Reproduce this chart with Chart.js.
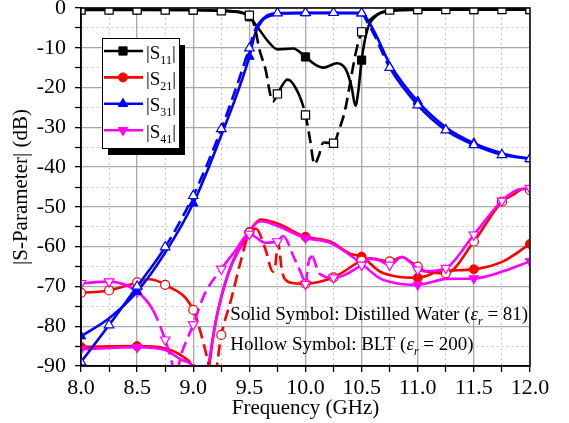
<!DOCTYPE html>
<html>
<head>
<meta charset="utf-8">
<script src="https://cdn.jsdelivr.net/npm/chart.js@4.4.1/dist/chart.umd.min.js"></script>
<style>
  html, body { margin: 0; padding: 0; background: #fff; }
  canvas { display: block; }
</style>
</head>
<body>
<canvas id="chart" width="569" height="423"></canvas>
<script>
// Solid symbols = distilled water, hollow symbols = BLT. Frequencies in GHz, values in dB.
const fS11w = [8.0, 8.5, 9.0, 9.25, 9.42, 9.5, 9.56, 9.67, 9.75, 9.89, 10.0, 10.09, 10.16, 10.28, 10.36, 10.41, 10.445, 10.47, 10.5, 10.55, 10.62, 10.72, 11.0, 11.5, 12.0];
const s11w  = [-0.4, -0.4, -0.5, -0.7, -1.0, -2.2, -4.3, -8.5, -10.4, -10.2, -12.3, -14.3, -15.0, -13.9, -15.5, -19.8, -24.6, -21.0, -13.1, -5.5, -2.2, -0.9, -0.4, -0.4, -0.4];

const fS21w = [8.0, 8.5, 8.75, 8.9, 9.0, 9.07, 9.14, 9.18, 9.22, 9.31, 9.4, 9.5, 9.6, 9.75, 10.0, 10.22, 10.4, 10.5, 10.66, 10.81, 11.0, 11.2, 11.5, 11.76, 12.0];
const s21w  = [-85.2, -85, -85.6, -87.5, -90.8, -100, -90.5, -82, -76, -66.8, -60.8, -56.3, -53.2, -54.2, -57.5, -58.7, -61.8, -62.5, -66.2, -67.5, -67.8, -66.2, -65.7, -63.7, -59.3];

const fS31w = [8.0, 8.25, 8.5, 8.75, 9.0, 9.25, 9.5, 9.55, 9.62, 9.7, 9.8, 10.0, 10.25, 10.5, 10.55, 10.62, 10.75, 11.0, 11.25, 11.5, 11.75, 12.0];
const s31w  = [-82.5, -78, -71.3, -61.5, -49.1, -32, -12.2, -6.5, -3, -1.8, -1.4, -1.3, -1.3, -1.3, -2.8, -6.3, -14, -23.5, -30, -34, -36.5, -38];

const fS41w = [8.0, 8.5, 8.75, 8.9, 9.0, 9.06, 9.13, 9.18, 9.22, 9.31, 9.4, 9.49, 9.52, 9.61, 9.74, 10.0, 10.22, 10.37, 10.5, 10.66, 10.81, 11.0, 11.26, 11.5, 11.76, 12.0];
const s41w  = [-85.8, -85.3, -86, -88.5, -90.6, -100, -90.5, -82.2, -76.3, -67, -61.2, -57.5, -55.3, -53.6, -54.7, -57.8, -59, -61.6, -64.3, -67.9, -69.2, -69.6, -68.1, -68, -66.2, -63.7];

const fS11b = [8.0, 8.25, 8.5, 8.75, 9.0, 9.25, 9.5, 9.55, 9.59, 9.64, 9.71, 9.75, 9.84, 9.95, 10.0, 10.04, 10.08, 10.12, 10.16, 10.25, 10.3, 10.35, 10.4, 10.45, 10.5, 10.56, 10.66, 10.75, 11.0, 11.25, 11.5, 11.75, 12.0];
const s11b  = [-0.5, -0.5, -0.5, -0.5, -0.5, -0.7, -1.8, -5, -10.5, -15, -23.5, -21.6, -18, -22.3, -26.9, -33, -39.3, -37, -33.8, -34, -30.5, -26, -18.5, -11, -6, -3.4, -1.3, -0.5, -0.4, -0.4, -0.4, -0.4, -0.4];

const fS21b = [8.0, 8.25, 8.5, 8.6, 8.75, 9.0, 9.08, 9.15, 9.19, 9.25, 9.34, 9.42, 9.5, 9.56, 9.64, 9.71, 9.73, 9.755, 9.79, 9.82, 9.9, 10.0, 10.25, 10.5, 10.57, 10.66, 10.75, 10.86, 10.93, 11.0, 11.07, 11.25, 11.5, 11.75, 11.85, 11.94, 12.0];
const s21b  = [-71.6, -71, -69, -68.2, -69.6, -75.9, -83, -90.5, -92, -82.2, -73, -64, -56.5, -55.5, -60.4, -66.3, -65, -59, -66, -68.3, -69.2, -69.3, -67.7, -63.5, -62.9, -63.3, -63.7, -62.6, -63.7, -65, -66.2, -66.7, -58.7, -48.7, -47, -45.5, -45.8];

const fS31b = [8.0, 8.25, 8.5, 8.75, 9.0, 9.25, 9.5, 9.55, 9.65, 9.75, 10.0, 10.25, 10.5, 10.55, 10.62, 10.75, 11.0, 11.25, 11.5, 11.75, 12.0];
const s31b  = [-89, -79.7, -70, -60.1, -47.2, -30.4, -10.1, -5.5, -2, -1.3, -1.2, -1.2, -1.3, -3.5, -7.2, -15, -24.4, -30.7, -34.4, -36.9, -37.9];

const fS41b = [8.0, 8.25, 8.5, 8.64, 8.75, 8.8, 8.84, 8.9, 9.0, 9.1, 9.25, 9.37, 9.5, 9.64, 9.75, 9.8, 9.9, 9.97, 10.0, 10.03, 10.06, 10.12, 10.25, 10.5, 10.57, 10.66, 10.75, 10.86, 10.93, 11.0, 11.07, 11.25, 11.5, 11.75, 11.88, 12.0];
const s41b  = [-69.2, -68.8, -71.3, -75.9, -83.4, -88, -92, -86.5, -79.6, -72, -65.6, -61.2, -56.8, -59, -58.7, -57.3, -62.9, -67.3, -69.4, -63.5, -62.5, -66.7, -67.8, -64.6, -63, -63.5, -64.6, -62.6, -63.8, -65.8, -66.2, -65.4, -57, -48.5, -45.8, -45.3];

const xMajor = [8.0, 8.5, 9.0, 9.5, 10.0, 10.5, 11.0, 11.5, 12.0];
const xTickText = ["8.0", "8.5", "9.0", "9.5", "10.0", "10.5", "11.0", "11.5", "12.0"];
const yMajor = [0, -10, -20, -30, -40, -50, -60, -70, -80, -90];
const yTickText = ["0", "-10", "-20", "-30", "-40", "-50", "-60", "-70", "-80", "-90"];

const legendNames = ["11", "21", "31", "41"];
const noteLines = [
  ["Solid Symbol: Distilled Water (", " = 81)"],
  ["Hollow Symbol: BLT (", " = 200)"],
];

const SERIF = "'Liberation Serif', 'Times New Roman', serif";
const near = (v, list) => list.findIndex((m) => Math.abs(m - v) < 1e-6);
const onStep = (v, step) => Math.abs(v / step - Math.round(v / step)) < 1e-6;
const pts = (xs, ys) => xs.map((x, i) => ({ x, y: ys[i] }));

// dashes only show up on the steep parts of the hollow curves in the original
const steepDash = (c) => {
  const dx = Math.abs(c.p1.x - c.p0.x), dy = Math.abs(c.p1.y - c.p0.y);
  return dy > 1.5 * dx ? [12, 6] : undefined;
};

function series(label, xs, ys, color, style, hollow) {
  const step = hollow ? 0.25 : 0.5;
  const r = style === "rect" ? 5.8 : style === "circle" ? 4.5 : 5.5;
  return {
    label,
    data: pts(xs, ys),
    borderColor: color,
    backgroundColor: hollow ? "#fff" : color,
    pointBorderColor: color,
    pointBackgroundColor: hollow ? "#fff" : color,
    borderWidth: 2.6,
    pointBorderWidth: hollow ? 1.2 : 1,
    pointStyle: style === "down" ? "triangle" : style,
    pointRotation: style === "down" ? 180 : 0,
    pointRadius: (c) => (c.raw && onStep(c.raw.x, step) ? r : 0),
    pointHoverRadius: 0,
    cubicInterpolationMode: "monotone",
    fill: false,
    segment: hollow ? { borderDash: steepDash } : undefined,
    _legend: !hollow,
    _style: style,
    _r: r,
  };
}

const datasets = [
  series("S21w", fS21w, s21w, "#ff0000", "circle", false),
  series("S41w", fS41w, s41w, "#ff00ff", "down", false),
  series("S21b", fS21b, s21b, "#ff0000", "circle", true),
  series("S41b", fS41b, s41b, "#ff00ff", "down", true),
  series("S11w", fS11w, s11w, "#000000", "rect", false),
  series("S31w", fS31w, s31w, "#0000ff", "triangle", false),
  series("S11b", fS11b, s11b, "#000000", "rect", true),
  series("S31b", fS31b, s31b, "#0000ff", "triangle", true),
];
// first listed is drawn first (bottom)
datasets.forEach((d, i) => { d.order = datasets.length - i; });

const frame = {
  id: "frame",
  afterDatasetsDraw(chart) {
    const { ctx, chartArea: a } = chart;
    ctx.save();
    ctx.strokeStyle = "#000";
    ctx.lineWidth = 1.5;
    ctx.strokeRect(a.left, a.top, a.right - a.left, a.bottom - a.top);
    ctx.restore();
  },
};

const boxLegend = {
  id: "boxLegend",
  afterDatasetsDraw(chart) {
    const { ctx, chartArea: a } = chart;
    const x0 = a.left + 21, y0 = a.top + 30, w = 77, h = 110;
    ctx.save();
    ctx.fillStyle = "#000";
    ctx.fillRect(x0 + 6, y0 + 7, w, h);
    ctx.fillStyle = "#fff";
    ctx.fillRect(x0, y0, w, h);
    ctx.strokeStyle = "#000";
    ctx.lineWidth = 1;
    ctx.strokeRect(x0 + 0.5, y0 + 0.5, w, h);
    const order = ["S11w", "S21w", "S31w", "S41w"];
    order.forEach((lab, i) => {
      const ds = chart.data.datasets.find((d) => d.label === lab);
      const y = y0 + 13 + i * 26.4;
      ctx.strokeStyle = ds.borderColor;
      ctx.lineWidth = 2.6;
      ctx.beginPath();
      ctx.moveTo(x0 + 2, y);
      ctx.lineTo(x0 + 41, y);
      ctx.stroke();
      ctx.fillStyle = ds.borderColor;
      ctx.lineWidth = 1;
      Chart.helpers.drawPoint(ctx, {
        pointStyle: ds.pointStyle, rotation: ds.pointRotation, radius: ds._r, borderWidth: 1,
      }, x0 + 21, y);
      ctx.fillStyle = "#000";
      ctx.textBaseline = "alphabetic";
      ctx.textAlign = "left";
      let tx = x0 + 44;
      const base = y + 7.6;
      ctx.font = "19px " + SERIF;
      ctx.fillText("|S", tx, base);
      tx += ctx.measureText("|S").width;
      ctx.font = "12px " + SERIF;
      ctx.fillText(legendNames[i], tx, base + 5);
      tx += ctx.measureText(legendNames[i]).width;
      ctx.font = "19px " + SERIF;
      ctx.fillText("|", tx, base);
    });
    ctx.restore();
  },
};

const notes = {
  id: "notes",
  afterDatasetsDraw(chart) {
    const { ctx } = chart;
    const xs = chart.scales.x, ys = chart.scales.y;
    const spots = [[9.33, -78.4], [9.33, -85.9]];
    ctx.save();
    ctx.fillStyle = "#000";
    ctx.textAlign = "left";
    ctx.textBaseline = "alphabetic";
    noteLines.forEach(([pre, post], i) => {
      let tx = xs.getPixelForValue(spots[i][0]);
      const base = ys.getPixelForValue(spots[i][1]);
      ctx.font = "19px " + SERIF;
      ctx.fillText(pre, tx, base);
      tx += ctx.measureText(pre).width;
      ctx.font = "italic 19px " + SERIF;
      ctx.fillText("\u03b5", tx, base);
      tx += ctx.measureText("\u03b5").width;
      ctx.font = "italic 12px " + SERIF;
      ctx.fillText("r", tx, base + 5);
      tx += ctx.measureText("r").width;
      ctx.font = "19px " + SERIF;
      ctx.fillText(post, tx, base);
    });
    ctx.restore();
  },
};

const majorGrid = "#a9a9a9", minorGrid = "#c4c4c4";

new Chart(document.getElementById("chart").getContext("2d"), {
  type: "line",
  data: { datasets },
  options: {
    responsive: false,
    animation: false,
    devicePixelRatio: 1,
    layout: { padding: { top: 8, right: 39, left: 0, bottom: 0 } },
    plugins: { legend: { display: false }, tooltip: { enabled: false } },
    scales: {
      x: {
        type: "linear",
        min: 8, max: 12,
        afterFit: (s) => { s.height = 57; s.paddingLeft = 0; s.paddingRight = 0; },
        ticks: {
          stepSize: 0.25, autoSkip: false, maxRotation: 0, padding: 3,
          color: "#000", font: { family: SERIF, size: 22 },
          callback: (v) => { const k = near(v, xMajor); return k >= 0 ? xTickText[k] : ""; },
        },
        grid: {
          color: (c) => (onStep(c.tick.value, 0.5) ? majorGrid : minorGrid),
          lineWidth: (c) => (onStep(c.tick.value, 0.5) ? 1.3 : 1),
          tickColor: "#000", tickLength: 6, tickWidth: 1.3,
        },
        border: {
          display: true, color: "#000", width: 1.5,
          dash: (c) => (c.tick && !onStep(c.tick.value, 0.5) ? [2, 3] : []),
        },
        title: {
          display: true, text: "Frequency (GHz)", color: "#000",
          font: { family: SERIF, size: 21 }, padding: { top: 0, bottom: 2 },
        },
      },
      y: {
        type: "linear",
        min: -90, max: 0,
        afterFit: (s) => { s.width = 81; s.paddingTop = 0; s.paddingBottom = 0; },
        ticks: {
          stepSize: 5, autoSkip: false, padding: 9,
          color: "#000", font: { family: SERIF, size: 22 },
          callback: (v) => { const k = near(v, yMajor); return k >= 0 ? yTickText[k] : ""; },
        },
        grid: {
          color: (c) => (onStep(c.tick.value, 10) ? majorGrid : minorGrid),
          lineWidth: (c) => (onStep(c.tick.value, 10) ? 1.3 : 1),
          tickColor: "#000", tickLength: 6, tickWidth: 1.3,
        },
        border: {
          display: true, color: "#000", width: 1.5,
          dash: (c) => (c.tick && !onStep(c.tick.value, 10) ? [2, 3] : []),
        },
        title: {
          display: true, text: "|S-Parameter| (dB)", color: "#000",
          font: { family: SERIF, size: 21 }, padding: { top: 9, bottom: 0 },
        },
      },
    },
  },
  plugins: [frame, notes, boxLegend],
});
</script>
</body>
</html>
